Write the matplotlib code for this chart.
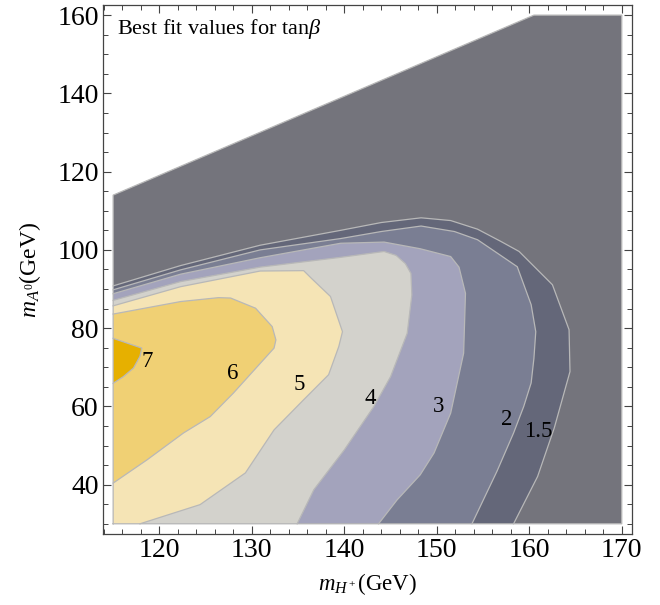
import numpy as np
import matplotlib
matplotlib.use("Agg")
from matplotlib import pyplot as plt
from matplotlib.ticker import MultipleLocator

plt.rcParams["font.family"] = ["Liberation Serif", "DejaVu Serif"]
plt.rcParams["mathtext.fontset"] = "custom"
plt.rcParams["mathtext.rm"] = "Liberation Serif"
plt.rcParams["mathtext.it"] = "Liberation Serif:italic"

# outline of the region where a fit exists (m_H+, m_A0) in GeV
domain_x = [115, 170, 170, 160.5, 115]
domain_y = [30, 30, 160, 160, 114]

# contour lines of the best fit tan(beta)
c15_x = [115, 122.3, 130.9, 139.6, 144.0, 148.3, 151.5, 154.4, 156.9, 158.9, 162.5, 164.3, 164.4, 162.7, 160.9, 158.3]
c15_y = [90.8, 96.0, 101.2, 105.0, 107.0, 108.2, 107.5, 105.3, 102.2, 99.6, 91.1, 79.6, 68.9, 54.5, 42.1, 30]

c2_x = [115, 122.3, 130.9, 139.6, 144.0, 148.3, 151.9, 154.4, 156.9, 158.7, 160.2, 160.7, 160.5, 160.2, 159.4, 158.3, 156.5, 153.8]
c2_y = [89.8, 94.9, 100.0, 102.9, 104.7, 106.1, 104.7, 102.6, 98.6, 95.7, 86.0, 79.1, 72.3, 66.0, 60.0, 53.2, 43.4, 30]

c3_x = [115, 122.3, 130.9, 139.6, 144.3, 148.2, 151.5, 152.4, 153.1, 152.9, 151.5, 149.7, 148.2, 145.7, 143.7]
c3_y = [88.8, 93.8, 98.0, 101.7, 102.0, 100.3, 98.3, 95.6, 88.9, 73.6, 58.3, 48.1, 42.5, 36.1, 30]

c4_x = [115, 122.3, 130.9, 139.6, 144.3, 145.6, 146.6, 147.2, 147.3, 146.8, 145.0, 143.2, 140.0, 136.7, 134.9]
c4_y = [87.1, 91.9, 95.6, 98.1, 99.6, 98.6, 96.5, 94.0, 88.5, 78.7, 67.6, 60.0, 48.9, 38.7, 30]

c5_x = [115, 122.3, 130.9, 135.6, 136.5, 138.5, 139.8, 139.4, 138.3, 135.6, 132.4, 129.3, 124.4, 117.9]
c5_y = [85.7, 90.6, 94.6, 94.7, 92.6, 88.1, 79.1, 75.3, 68.1, 61.7, 54.0, 43.0, 34.9, 30]

c6_x = [115, 122.3, 126.4, 127.7, 130.4, 132.2, 132.6, 132.4, 130.6, 128.0, 125.5, 122.6, 118.7, 115]
c6_y = [83.6, 86.8, 87.8, 87.7, 85.1, 80.4, 77.0, 74.9, 70.2, 63.4, 57.4, 53.2, 46.4, 40.4]

c7_x = [115, 118.1, 117.9, 117.2, 116.1, 115]
c7_y = [77.4, 74.9, 72.8, 69.8, 67.6, 65.9]

levels = ["1.5", "2", "3", "4", "5", "6", "7"]
label_x = [161.0, 157.6, 150.2, 142.8, 135.1, 127.9, 118.7]
label_y = [53.6, 56.6, 60.0, 62.1, 65.5, 68.5, 71.5]

colors = ["#74747c", "#646779", "#7a7e93", "#a3a3bc", "#d3d2cc", "#f5e4b5", "#f0d074", "#e6b000"]
line_color = "#b8b8b8"

fig = plt.figure(figsize=(6.6, 6.05), dpi=100)
ax = fig.add_axes([0.156, 0.1174, 0.8015, 0.8744])

ax.fill(domain_x, domain_y, color=colors[0], lw=0)

contours = [(c15_x, c15_y), (c2_x, c2_y), (c3_x, c3_y), (c4_x, c4_y),
            (c5_x, c5_y), (c6_x, c6_y), (c7_x, c7_y)]
for i, (cx, cy) in enumerate(contours):
    px = list(cx)
    py = list(cy)
    if py[-1] == 30:
        # region closes through the lower left corner
        px.append(115)
        py.append(30)
    ax.fill(px, py, color=colors[i + 1], lw=0)
    ax.plot(cx, cy, color=line_color, lw=0.9)

ax.plot(domain_x + domain_x[:1], domain_y + domain_y[:1], color=line_color, lw=0.9)

for lev, lx, ly in zip(levels, label_x, label_y):
    ax.text(lx, ly, lev, ha="center", va="center", fontsize=16.5)

ax.text(0.027, 0.978, r"Best fit values for tan$\beta$", transform=ax.transAxes,
        ha="left", va="top", fontsize=16)

ax.set_xlim(113.9, 171.1)
ax.set_ylim(27.4, 162.6)
ax.xaxis.set_major_locator(MultipleLocator(10))
ax.xaxis.set_minor_locator(MultipleLocator(2))
ax.yaxis.set_major_locator(MultipleLocator(20))
ax.yaxis.set_minor_locator(MultipleLocator(5))
ax.tick_params(which="both", direction="in", top=True, right=True, colors="#444444",
               labelcolor="black", labelsize=20, pad=3)
ax.tick_params(which="major", length=6, width=0.8)
ax.tick_params(which="minor", length=3.5, width=0.7)
for s in ax.spines.values():
    s.set_color("#444444")
    s.set_linewidth(0.9)

ax.set_xlabel(r"$m_{H^+}$(GeV)", fontsize=16.5, labelpad=6)
ax.set_ylabel(r"$m_{A^0}$(GeV)", fontsize=17, labelpad=10)

fig.savefig("out.png", dpi=100)
